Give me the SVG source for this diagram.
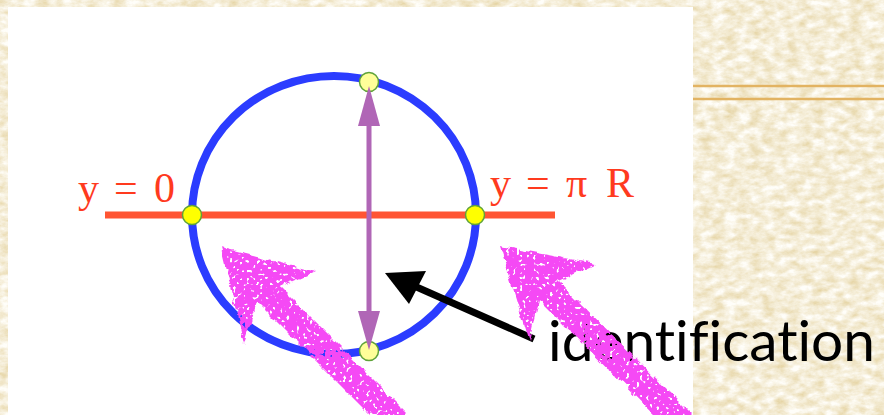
<svg xmlns="http://www.w3.org/2000/svg" width="884" height="415" viewBox="0 0 884 415">
<style>
.lbl{font-family:"Liberation Serif","Times New Roman",serif;font-size:42px;fill:#ff3a1e}
.txt{font-family:Lato,"Open Sans","Liberation Sans",sans-serif;font-size:57px;fill:#000;font-variant-ligatures:none;font-feature-settings:"liga" 0}
.gold{stroke:#e2b362;stroke-width:2.5}
.pink{fill:#f548f5;filter:url(#rough)}
.sdot{fill:#ffff00;stroke:#5fa33a;stroke-width:1.5}
.vdot{fill:#ffff99;stroke:#5fa33a;stroke-width:1.5}
.purple{fill:#b066b6}
</style>
<defs>
<filter id="paper" x="0" y="0" width="100%" height="100%">
<feTurbulence type="fractalNoise" baseFrequency="0.08 0.14" numOctaves="4" seed="4"/>
<feColorMatrix type="matrix" values="0 0 0 0 1  0 0 0 0 0.99  0 0 0 0 0.95  -1.5 0 0 0 1.35"/>
</filter>
<filter id="rough" x="-15%" y="-15%" width="130%" height="130%">
<feTurbulence type="fractalNoise" baseFrequency="0.09" numOctaves="2" seed="3" result="n"/>
<feDisplacementMap in="SourceGraphic" in2="n" scale="8" xChannelSelector="R" yChannelSelector="G" result="d"/>
<feTurbulence type="fractalNoise" baseFrequency="0.3" numOctaves="1" seed="9" result="s"/>
<feColorMatrix in="s" type="matrix" values="0 0 0 0 0  0 0 0 0 0  0 0 0 0 0  14 0 0 0 -8.6" result="holes"/>
<feComposite in="d" in2="holes" operator="out"/>
</filter>
</defs>

<g id="background">
<rect x="0" y="0" width="884" height="415" fill="#e6d5a6"/>
<rect x="0" y="0" width="884" height="415" filter="url(#paper)"/>
<rect x="8" y="7" width="685" height="408" fill="#ffffff"/>
<line class="gold" x1="693" y1="86" x2="884" y2="86"/>
<line class="gold" x1="693" y1="99" x2="884" y2="99"/>
</g>

<g id="circle">
<ellipse cx="334" cy="215" rx="142" ry="139" fill="none" stroke="#2b3cff" stroke-width="8"/>
</g>

<g id="brane-line">
<line x1="105" y1="215" x2="555" y2="215" stroke="#ff5533" stroke-width="7"/>
</g>

<g id="label-y0">
<text class="lbl" y="202"><tspan x="78">y</tspan><tspan x="114">=</tspan><tspan x="154">0</tspan></text>
</g>
<g id="label-ypiR">
<text class="lbl" y="197"><tspan x="490">y</tspan><tspan x="526">=</tspan><tspan x="566">π</tspan><tspan x="606">R</tspan></text>
</g>

<g id="dots">
<circle class="sdot" cx="192" cy="215" r="9.5"/>
<circle class="sdot" cx="475" cy="215" r="9.5"/>
<circle class="vdot" cx="369" cy="82" r="9.5"/>
<circle class="vdot" cx="369" cy="351" r="9.5"/>
</g>

<g id="connectors">
<g id="identify-arrow">
<line x1="369" y1="120" x2="369" y2="318" stroke="#b066b6" stroke-width="5"/>
<polygon class="purple" points="369,86 358,126 380,126"/>
<polygon class="purple" points="369,350 358,311 380,311"/>
</g>
<g id="pointer-arrow">
<line x1="534" y1="339" x2="412" y2="285" stroke="#000" stroke-width="7"/>
<polygon points="385,273 426,271 409,304" fill="#000"/>
</g>
</g>

<g id="label-identification">
<text class="txt" x="548" y="361" textLength="327" lengthAdjust="spacingAndGlyphs">identification</text>
</g>

<g id="pink-arrow-left">
<polygon class="pink" points="221,248 316,272 276,290 257,303 244,344"/>
<polygon class="pink" points="274,281 407,414 388,433 255,300"/>
</g>
<g id="pink-arrow-right">
<polygon class="pink" points="500,246 596,264 557,282 538,301 529,342"/>
<polygon class="pink" points="555,278 691,413 672,432 536,297"/>
</g>
</svg>
